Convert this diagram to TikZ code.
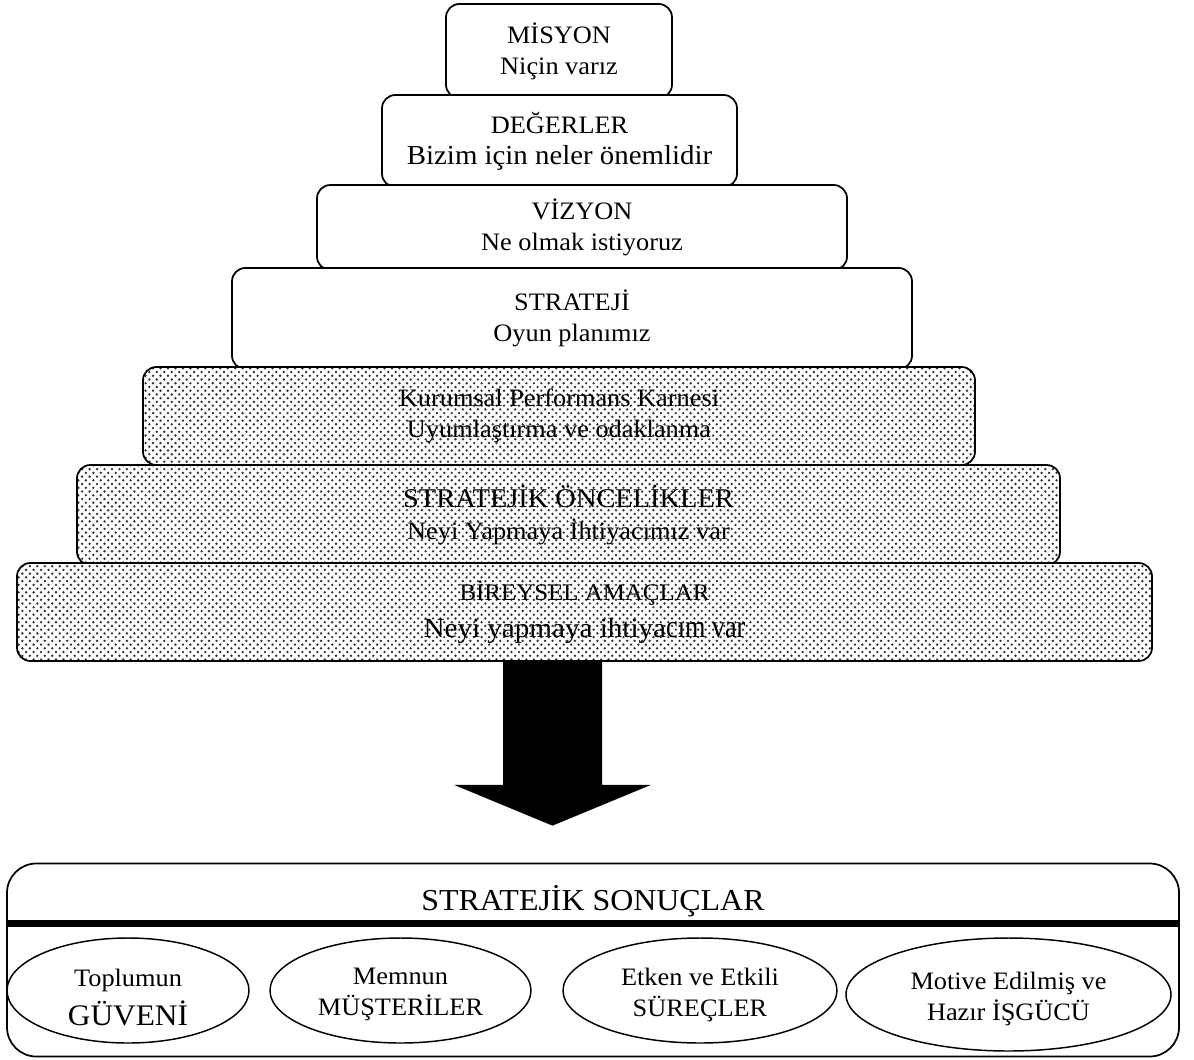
\documentclass[tikz,border=0pt]{standalone}
\usepackage{fontspec}
\usepackage{graphicx}
\setmainfont{Liberation Serif}[FakeStretch=1.05]
\usetikzlibrary{patterns,calc,shapes.geometric}

% staggered dot screen for the lower tiers
\pgfdeclarepatternformonly{stipple}{\pgfqpoint{-1.2pt}{-1.2pt}}{\pgfqpoint{4.8pt}{4.8pt}}{\pgfqpoint{5.6pt}{5.6pt}}{%
  \pgfpathcircle{\pgfqpoint{0pt}{0pt}}{1pt}%
  \pgfpathcircle{\pgfqpoint{2.8pt}{2.8pt}}{1pt}%
  \pgfusepath{fill}}

\newcommand\bodysize{\fontsize{18.8pt}{23.3pt}\selectfont}
\newcommand\bigsize{\fontsize{22.4pt}{25pt}\selectfont}

\begin{document}
\begin{tikzpicture}[x=0.75pt,y=-0.75pt,
  tier/.style={draw, line width=1.3pt, rounded corners=10pt, fill=white,
    align=center, inner sep=0pt, font=\bodysize},
  shadedtier/.style={draw, line width=1.3pt, rounded corners=10pt,
    preaction={fill=white}, pattern=stipple, pattern color=black!80,
    align=center, inner sep=0pt, font=\bodysize},
  oval/.style={draw, ellipse, line width=1.1pt, inner sep=0pt},
  ovaltext/.style={align=center, inner sep=0pt, font=\bodysize}]
\useasboundingbox (0,0) rectangle (1194,1059);

% pyramid of tiers, each lower tier laid over the one above
\node[tier, minimum width=226*0.75pt, minimum height=94*0.75pt] (b1) at (559,51)
  {MİSYON\\Niçin varız};
\node[tier, minimum width=355*0.75pt, minimum height=92*0.75pt] (b2) at (559.5,141)
  {DEĞERLER\\{\fontsize{20.6pt}{23.3pt}\selectfont Bizim için neler önemlidir}};
\node[tier, minimum width=530*0.75pt, minimum height=85*0.75pt] (b3) at (582,227.5)
  {VİZYON\\Ne olmak istiyoruz};
\node[tier, minimum width=680*0.75pt, minimum height=101*0.75pt] (b4) at (572,318.5)
  {STRATEJİ\\Oyun planımız};
\node[shadedtier, minimum width=832*0.75pt, minimum height=98*0.75pt] (b5) at (559,416)
  {Kurumsal Performans Karnesi\\Uyumlaştırma ve odaklanma};
\node[shadedtier, minimum width=983*0.75pt, minimum height=100*0.75pt] (b6) at (568.5,515)
  {{\fontsize{20.3pt}{23.3pt}\selectfont STRATEJİK ÖNCELİKLER}\\Neyi Yapmaya İhtiyacımız var};
\node[shadedtier, minimum width=1135*0.75pt, minimum height=98*0.75pt] (b7) at (584.5,612)
  {{\fontsize{17.8pt}{23.3pt}\selectfont BİREYSEL AMAÇLAR}\\[4pt]
   {\fontsize{20.8pt}{23.3pt}\selectfont Neyi yapmaya ihtiya}\scalebox{0.78}[1]{\fontsize{24pt}{24pt}\selectfont cım var}};

% outcomes panel
\node[draw, line width=1.3pt, rounded corners=22pt,
  minimum width=1172*0.75pt, minimum height=193*0.75pt] (res) at (593,960) {};
\draw[line width=5.25pt] ($(res.north west)+(0,61)$) -- ($(res.north east)+(0,61)$);
\node[font=\fontsize{22.8pt}{25pt}\selectfont, anchor=base] (title) at (593,910.5)
  {STRATEJİK SONUÇLAR};

\node[oval, minimum width=242*0.75pt, minimum height=105*0.75pt] (e1) at (128,990.5) {};
\node[oval, minimum width=261*0.75pt, minimum height=105*0.75pt] (e2) at (400.5,990.5) {};
\node[oval, minimum width=274*0.75pt, minimum height=105*0.75pt] (e3) at (700,990.5) {};
\node[oval, minimum width=325*0.75pt, minimum height=113*0.75pt] (e4) at (1008.5,994.5) {};

\node[ovaltext] (t1) at ($(e1.center)+(0,7)$) {Toplumun\\[6pt]{\bigsize GÜVENİ}};
\node[ovaltext] (t2) at ($(e2.center)+(0,4)$) {Memnun\\MÜŞTERİLER};
\node[ovaltext] (t3) at ($(e3.center)+(0,4)$) {Etken ve Etkili\\SÜREÇLER};
\node[ovaltext] (t4) at ($(e4.center)+(0,4.5)$) {Motive Edilmiş ve\\Hazır İŞGÜCÜ};

% block arrow from the tiers down to the outcomes
\coordinate (axis) at (552.5,0);
\coordinate (atop) at (b7.south -| axis);
\coordinate (atip) at ($(res.north -| axis)+(0,-37)$);
\fill ($(atop)+(-49.5,0)$) -- ($(atop)+(49.5,0)$) -- ($(atop)+(49.5,123)$)
  -- ($(atop)+(98.5,123)$) -- (atip) -- ($(atop)+(-98.5,123)$)
  -- ($(atop)+(-49.5,123)$) -- cycle;
\end{tikzpicture}
\end{document}
